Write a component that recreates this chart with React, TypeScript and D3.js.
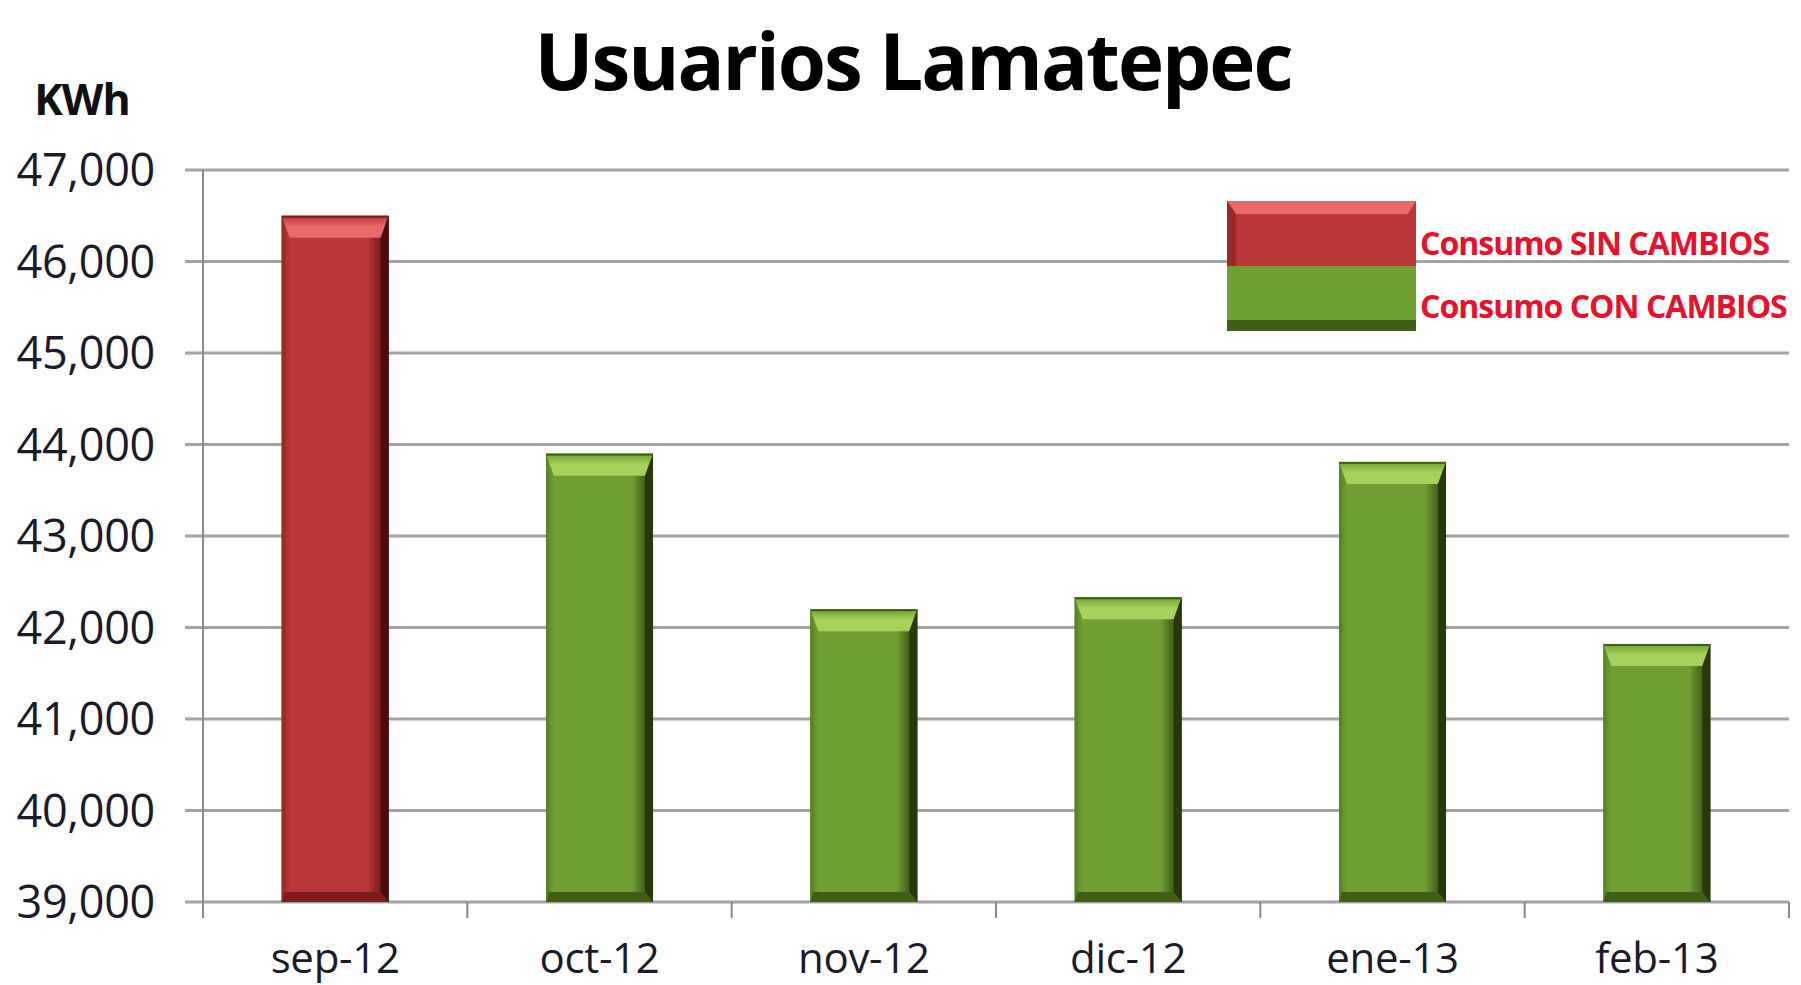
import React from "react";
import * as d3 from "d3";

const categories = ["sep-12", "oct-12", "nov-12", "dic-12", "ene-13", "feb-13"];
const consumo = [46500, 43900, 42200, 42330, 43810, 41820];
const seriesKind = ["sin", "con", "con", "con", "con", "con"];
const yTicks = [39000, 40000, 41000, 42000, 43000, 44000, 45000, 46000, 47000];
const legendLabels = ["Consumo SIN CAMBIOS", "Consumo CON CAMBIOS"];

const W = 1801;
const H = 985;
const FONT = "'Open Sans', 'DejaVu Sans', sans-serif";

const palette: Record<string, { main: string; top: string; left: string; right: string; bottom: string }> = {
  sin: { main: "#bb3636", top: "#e86a68", left: "#9a2828", right: "#4a0c0c", bottom: "#7c1c1c" },
  con: { main: "#70a032", top: "#a4d25a", left: "#5a8426", right: "#26380c", bottom: "#3f5e16" },
};

function Bar({ x, y, w, h, kind }: { x: number; y: number; w: number; h: number; kind: string }) {
  const c = palette[kind];
  const b = Math.min(22, h / 3);
  const s = 8;
  return (
    <g>
      <rect x={x} y={y} width={w} height={h} fill={`url(#grad-${kind})`} />
      <polygon points={`${x},${y} ${x + w},${y} ${x + w - s},${y + b} ${x + s},${y + b}`} fill={`url(#top-${kind})`} />
      <polygon points={`${x + w},${y} ${x + w},${y + h} ${x + w - s},${y + h - 10} ${x + w - s},${y + b}`} fill={c.right} />
      <polygon points={`${x},${y} ${x + 3},${y + b} ${x + 3},${y + h - 10} ${x},${y + h}`} fill={c.left} />
      <polygon points={`${x},${y + h} ${x + w},${y + h} ${x + w - s},${y + h - 10} ${x + 3},${y + h - 10}`} fill={c.bottom} />
      <rect x={x} y={y} width={w} height={2} fill={c.bottom} />
    </g>
  );
}

export default function App() {
  const x0 = 203;
  const x1 = 1789;
  const y = d3.scaleLinear().domain([39000, 47000]).range([902, 170]);
  const x = d3.scaleBand<string>().domain(categories).range([x0, x1]).paddingInner(0.595).paddingOuter(0.2975);
  const step = (x1 - x0) / categories.length;
  const fmt = d3.format(",");

  return (
    <svg width={W} height={H} style={{ position: "absolute", left: 0, top: 0, background: "#fff" }}>
      <defs>
        {Object.entries(palette).map(([k, c]) => (
          <React.Fragment key={k}>
            <linearGradient id={`grad-${k}`} x1="0" x2="1" y1="0" y2="0">
              <stop offset="0" stopColor={c.left} />
              <stop offset="0.08" stopColor={c.main} />
              <stop offset="0.8" stopColor={c.main} />
              <stop offset="1" stopColor={c.right} />
            </linearGradient>
            <linearGradient id={`top-${k}`} x1="0" x2="0" y1="0" y2="1">
              <stop offset="0" stopColor={c.main} />
              <stop offset="0.5" stopColor={c.top} />
              <stop offset="1" stopColor={c.top} />
            </linearGradient>
          </React.Fragment>
        ))}
      </defs>
      <rect x={0} y={0} width={W} height={H} fill="#fff" />

      {/* gridlines */}
      {yTicks.map((t) => (
        <line key={t} x1={x0 - 18} x2={x1} y1={y(t)} y2={y(t)} stroke="#a3a3a3" strokeWidth={3} />
      ))}
      {/* y axis */}
      <line x1={x0} x2={x0} y1={y(47000)} y2={y(39000) + 16} stroke="#8a8a8a" strokeWidth={2} />
      {/* x ticks */}
      {d3.range(categories.length + 1).map((i) => (
        <line key={i} x1={x0 + i * step} x2={x0 + i * step} y1={y(39000)} y2={y(39000) + 16} stroke="#8a8a8a" strokeWidth={2} />
      ))}

      {/* y labels */}
      {yTicks.map((t) => (
        <text key={t} x={155} y={y(t) + 16} textAnchor="end" fontFamily={FONT} fontSize={45} fill="#1a1a2a" letterSpacing={-0.3}>
          {fmt(t)}
        </text>
      ))}
      <text x={82} y={115} textAnchor="middle" fontFamily={FONT} fontSize={43} fontWeight={700} fill="#111" letterSpacing={-1}>
        KWh
      </text>

      {/* bars */}
      {categories.map((c, i) => (
        <Bar key={c} x={x(c)!} y={y(consumo[i])} w={x.bandwidth()} h={y(39000) - y(consumo[i])} kind={seriesKind[i]} />
      ))}

      {/* x labels */}
      {categories.map((c) => (
        <text key={c} x={x(c)! + x.bandwidth() / 2} y={973} textAnchor="middle" fontFamily={FONT} fontSize={42} fill="#1a1a2a" letterSpacing={-0.3}>
          {c}
        </text>
      ))}

      {/* title */}
      <text x={913} y={90} textAnchor="middle" fontFamily={FONT} fontSize={78} fontWeight={700} fill="#000" letterSpacing={-2}>
        Usuarios Lamatepec
      </text>

      {/* legend */}
      <Bar x={1227} y={201} w={189} h={130} kind="con" />
      <rect x={1227} y={201} width={189} height={65} fill="#bb3636" />
      <polygon points="1227,201 1416,201 1408,214 1235,214" fill="#e86a68" />
      <rect x={1227} y={214} width={189} height={52} fill="#bb3636" />
      <polygon points="1227,201 1236,214 1236,266 1227,266" fill="#9a2828" />
      <rect x={1227} y={266} width={189} height={54} fill="#70a032" />
      <polygon points="1227,320 1416,320 1416,331 1227,331" fill="#3f5e16" />
      {legendLabels.map((l, i) => (
        <text key={l} x={1420} y={255 + i * 63} fontFamily={FONT} fontSize={32} fontWeight={700} fill="#e8102a" letterSpacing={-1}>
          {l}
        </text>
      ))}
    </svg>
  );
}
